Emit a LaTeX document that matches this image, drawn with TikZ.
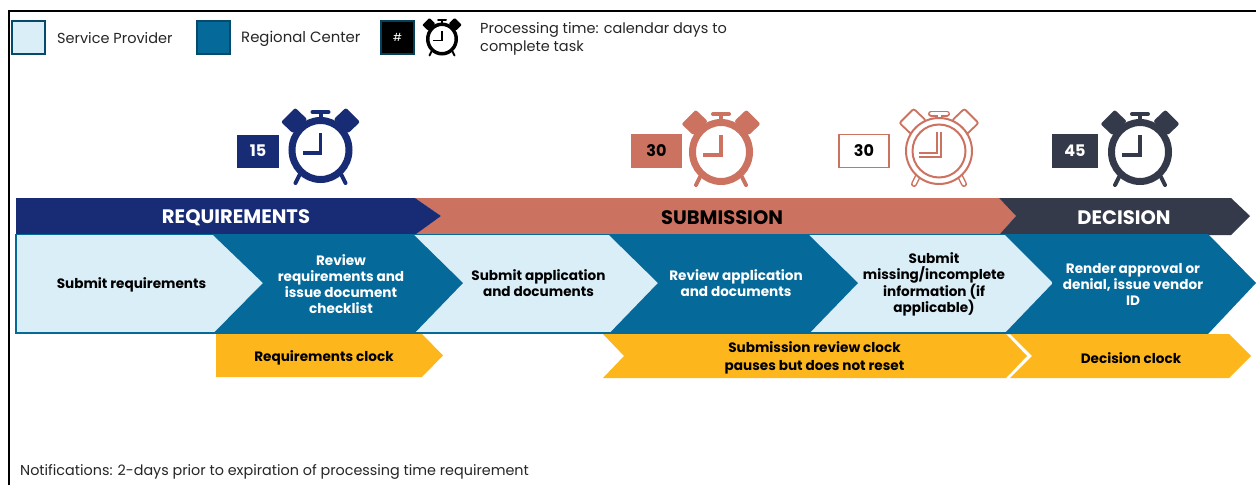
\documentclass[tikz,border=0pt]{standalone}
\usepackage{fontspec}
\setmainfont{Poppins}
\definecolor{navy}{HTML}{172C74}
\definecolor{salmon}{HTML}{CC7260}
\definecolor{slate}{HTML}{343A4A}
\definecolor{rcblue}{HTML}{056A99}
\definecolor{splight}{HTML}{DAEEF8}
\definecolor{clockyellow}{HTML}{FDB71C}
\definecolor{txt}{HTML}{262626}
\tikzset{
  lbl/.style={font=\fontsize{13.6}{16}\selectfont\bfseries,align=center,inner sep=0pt,text=#1},
  lbl/.default=black,
  band/.style={font=\fontsize{19.5}{22}\selectfont\bfseries,inner sep=0pt,text=#1},
  legendtxt/.style={font=\fontsize{14.5}{18}\selectfont,inner sep=0pt,anchor=west,align=left,text=txt},
  daybox/.style={font=\fontsize{16}{18}\selectfont\bfseries,inner sep=0pt,text=#1},
}
% solid clock: cx, cy, scale, colour
\newcommand{\solidclock}[4]{%
\begin{scope}[shift={(#1,#2)},scale=#3,line cap=round,draw=#4]
  \draw[line width=#3*7pt] (0,0) ellipse (28.5 and 29.5);
  \draw[line width=#3*3.5pt,line cap=butt,line join=miter] (0,-17) -- (0,3) -- (-18,3);
  \draw[line width=#3*4pt] (0,-37) -- (0,-30);
  \draw[line width=#3*4pt] (-8,-38) -- (8,-38);
  \draw[line width=#3*4pt] (-21,25) -- (-25,33);
  \draw[line width=#3*4pt] (21,25) -- (25,33);
  \fill[#4,rounded corners=#3*2pt] (-39.5,-28) -- (-25.3,-42.2) -- (-13.2,-30.7) -- (-27.7,-16.8) -- cycle;
  \fill[#4,rounded corners=#3*2pt] (39.5,-28) -- (25.3,-42.2) -- (13.2,-30.7) -- (27.7,-16.8) -- cycle;
\end{scope}}
% outlined clock
\newcommand{\hollowclock}[3]{%
\begin{scope}[shift={(#1,#2)},line cap=round,draw=#3]
  \draw[line width=6pt] (0,-36) -- (0,-30);
  \draw[line width=6pt] (-8,-37.5) -- (8,-37.5);
  \draw[white,line width=3pt] (0,-36) -- (0,-30);
  \draw[white,line width=3pt] (-8,-37.5) -- (8,-37.5);
  \draw[line width=6pt] (-21,25) -- (-25,33);
  \draw[line width=6pt] (21,25) -- (25,33);
  \draw[white,line width=3pt] (-21,25) -- (-25,33);
  \draw[white,line width=3pt] (21,25) -- (25,33);
  \draw[fill=white,line width=1.8pt,rounded corners=2pt] (-39.5,-28) -- (-25.3,-42.2) -- (-13.2,-30.7) -- (-27.7,-16.8) -- cycle;
  \draw[fill=white,line width=1.8pt,rounded corners=2pt] (39.5,-28) -- (25.3,-42.2) -- (13.2,-30.7) -- (27.7,-16.8) -- cycle;
  \draw[fill=white,line width=2pt] (0,0) circle (33);
  \draw[line width=2pt] (0,0) circle (26.5);
  \draw[line width=5.5pt,line cap=butt] (0,-19) -- (0,4) -- (-20,4);
  \draw[white,line width=2.2pt,line cap=butt] (0,-19) -- (0,4) -- (-20,4);
\end{scope}}
\begin{document}
\begin{tikzpicture}[x=1pt,y=-1pt]
\useasboundingbox (0,0) rectangle (1256,485);
\fill[white] (0,0) rectangle (1256,485);
% frame
\draw[black,line width=2pt] (8.5,485) -- (8.5,10.5) -- (1256,10.5);
% legend
\draw[draw=rcblue!70!black,fill=splight,line width=1.2pt] (12,21) rectangle (45,54);
\node[legendtxt] (legsp) at (57,38) {Service Provider};
\draw[draw=rcblue!70!black,fill=rcblue,line width=1.2pt] (197,21) rectangle (230,54);
\node[legendtxt,font=\fontsize{14.9}{18}\selectfont] (legrc) at (241,39) {Regional Center};
\node[draw=rcblue!60!black,fill=black,line width=1.2pt,minimum size=33pt,inner sep=0pt,text=white,font=\fontsize{11}{13}\selectfont] (leghash) at (397.5,37.5) {\#};
\solidclock{442}{39}{0.5}{black}
\node[legendtxt] (legpt) at (480,39) {Processing time: calendar days to\\complete task};
% day boxes and clocks
\node[fill=navy,minimum width=42pt,minimum height=33pt,daybox=white] (d15) at (258,151) {15};
\solidclock{320.5}{150}{1}{navy}
\node[fill=salmon,minimum width=51pt,minimum height=34pt,daybox=black] (d30a) at (656.5,151) {30};
\solidclock{721}{152}{1}{salmon}
\node[draw=salmon,fill=white,line width=1.6pt,minimum width=50pt,minimum height=33pt,daybox=black] (d30b) at (864,151) {30};
\hollowclock{939}{151}{salmon}
\node[fill=slate,minimum width=46pt,minimum height=34pt,daybox=white] (d45) at (1075,151) {45};
\solidclock{1140}{152}{1}{slate}
% phase band
\fill[salmon] (415,198) -- (999,198) -- (1016,216) -- (1000,234) -- (415,234) -- (441,216) -- cycle;
\fill[slate] (999,198) -- (1231,198) -- (1250,216) -- (1231,235) -- (999,235) -- (1016,216) -- cycle;
\fill[navy] (16,198) -- (415,198) -- (441,216) -- (416,234) -- (16,234) -- cycle;
\node[band=white] (reqband) at (236,218) {REQUIREMENTS};
\node[band=black] (subband) at (722,218) {SUBMISSION};
\node[band=white] (decband) at (1124,218) {DECISION};
% process row
\draw[rcblue,fill=splight,line width=1.5pt] (16,234.5) rectangle (1053,333);
\fill[rcblue] (213,235) -- (414,235) -- (463,283) -- (414,333.7) -- (213,333.7) -- (263,283) -- cycle;
\fill[rcblue] (609,235) -- (809,235) -- (858,283) -- (809,333.7) -- (609,333.7) -- (658,283) -- cycle;
\fill[rcblue] (1004,234) -- (1208,234) -- (1256,283) -- (1208,334) -- (1004,334) -- (1053,283) -- cycle;
\node[lbl] (p1) at (131.5,284.5) {Submit requirements};
\node[lbl=white] (p2) at (341,284) {Review\\requirements and\\issue document\\checklist};
\node[lbl] (p3) at (538.5,283.5) {Submit application\\and documents};
\node[lbl=white] (p4) at (736,283.5) {Review application\\and documents};
\node[lbl] (p5) at (934,284) {Submit\\missing/incomplete\\information (if\\applicable)};
\node[lbl=white] (p6) at (1133,284) {Render approval or\\denial, issue vendor\\ID};
% clocks row
\fill[clockyellow] (216,334) -- (422,334) -- (443,355.5) -- (422,377) -- (216,377) -- cycle;
\fill[clockyellow] (603,334) -- (1006,334) -- (1027,356) -- (1006,378) -- (603,378) -- (624,356) -- cycle;
\fill[clockyellow] (1010,334) -- (1229,334) -- (1251,356) -- (1229,378) -- (1010,378) -- (1032,356) -- cycle;
\node[lbl] (c1) at (324,357.5) {Requirements clock};
\node[lbl,font=\fontsize{13.6}{18}\selectfont\bfseries] (c2) at (814.5,358) {Submission review clock\\pauses but does not reset};
\node[lbl] (c3) at (1131,358) {Decision clock};
% note
\node[legendtxt,font=\fontsize{14.35}{18}\selectfont] (note) at (20,472) {Notifications: 2-days prior to expiration of processing time requirement};
\end{tikzpicture}
\end{document}
